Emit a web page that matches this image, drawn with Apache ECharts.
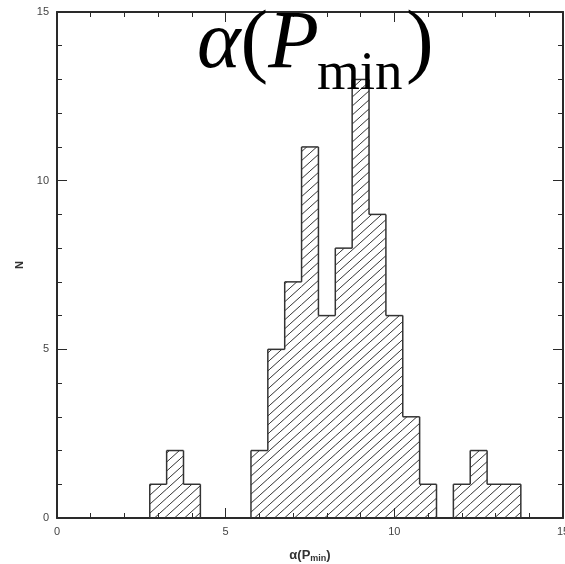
<!DOCTYPE html>
<html>
<head>
<meta charset="utf-8">
<script src="https://cdn.jsdelivr.net/npm/echarts@6/dist/echarts.min.js"></script>
<style>html,body{margin:0;padding:0;background:#fff}#c{width:565px;height:564px}</style>
</head>
<body>
<div id="c"></div>
<script>
// Histogram data (bin left edges, counts)
const binLeft = [2.75, 3.25, 3.75, 5.75, 6.25, 6.75, 7.25, 7.75, 8.25, 8.75, 9.25, 9.75, 10.25, 10.75, 11.75, 12.25, 12.75, 13.25];
const counts  = [1, 2, 1, 2, 5, 7, 11, 6, 8, 13, 9, 6, 3, 1, 1, 2, 1, 1];
const binWidth = 0.5;
const xTicks = [0, 5, 10, 15];
const yTicks = [0, 5, 10, 15];

// hatch pattern
const W = 10, H = 9;
const tile = document.createElement('canvas');
tile.width = W; tile.height = H;
const g = tile.getContext('2d');
g.strokeStyle = '#333';
g.lineWidth = 1;
[-W, 0, W].forEach(function (dx) {
  g.beginPath(); g.moveTo(dx, H); g.lineTo(dx + W, 0); g.stroke();
});
const hatch = { type: 'pattern', image: tile, repeat: 'repeat' };

const data = binLeft.map(function (x, i) { return [x, x + binWidth, counts[i]]; });
const near = function (a, b) { return Math.abs(a - b) < 1e-6; };

const chart = echarts.init(document.getElementById('c'), null, { renderer: 'canvas' });
const lineCol = '#2a2a2a';
const tickLab = { color: '#444', fontSize: 11, fontFamily: 'Liberation Sans, Arial, sans-serif' };
const serifMain = { fontFamily: 'Liberation Serif', fontWeight: 'normal', fontSize: 83, lineHeight: 83, color: '#000' };

chart.setOption({
  animation: false,
  backgroundColor: '#fff',
  title: [
    { text: '{a|α}{b|(}{a|P}', left: 197, top: 4, padding: 0,
      textStyle: { fontWeight: 'normal', rich: {
        a: Object.assign({}, serifMain, { fontStyle: 'italic' }),
        b: Object.assign({}, serifMain) } } },
    { text: 'min', left: 317, top: 47, padding: 0,
      textStyle: { fontFamily: 'Liberation Serif', fontWeight: 'normal', fontSize: 55, lineHeight: 55, color: '#000' } },
    { text: ')', left: 406, top: 4, padding: 0,
      textStyle: Object.assign({}, serifMain) }
  ],
  grid: { left: 57, right: 2, top: 12, bottom: 46, outerBoundsMode: 'none', containLabel: false },
  xAxis: [
    { type: 'value', min: 0, max: 15, interval: 5, position: 'bottom',
      name: '{a|α(P}{s|min}{a|)}', nameLocation: 'middle', nameGap: 29,
      nameTextStyle: { rich: {
        a: { fontFamily: 'Liberation Sans', fontWeight: 'bold', fontSize: 13, color: '#333' },
        s: { fontFamily: 'Liberation Sans', fontWeight: 'bold', fontSize: 9, color: '#333', padding: [7, 0, 0, 0] } } },
      axisLine: { show: true, onZero: false, lineStyle: { color: lineCol, width: 2 } },
      axisTick: { show: true, inside: true, length: 10, lineStyle: { color: lineCol, width: 1 } },
      minorTick: { show: true, splitNumber: 5, length: 5, lineStyle: { color: lineCol, width: 1 } },
      axisLabel: Object.assign({ margin: 8, formatter: function (v) { return xTicks.indexOf(v) >= 0 ? String(v) : ''; } }, tickLab),
      splitLine: { show: false } },
    { type: 'value', min: 0, max: 15, interval: 5, position: 'top',
      axisLine: { show: true, onZero: false, lineStyle: { color: lineCol, width: 2 } },
      axisTick: { show: true, inside: true, length: 10, lineStyle: { color: lineCol, width: 1 } },
      minorTick: { show: true, splitNumber: 5, length: 5, lineStyle: { color: lineCol, width: 1 } },
      axisLabel: { show: false }, splitLine: { show: false } }
  ],
  yAxis: [
    { type: 'value', min: 0, max: 15, interval: 5, position: 'left',
      name: 'N', nameLocation: 'middle', nameGap: 20, nameRotate: 90,
      nameTextStyle: { fontFamily: 'Liberation Sans', fontWeight: 'bold', fontSize: 11, color: '#333' },
      axisLine: { show: true, onZero: false, lineStyle: { color: lineCol, width: 2 } },
      axisTick: { show: true, inside: true, length: 10, lineStyle: { color: lineCol, width: 1 } },
      minorTick: { show: true, splitNumber: 5, length: 5, lineStyle: { color: lineCol, width: 1 } },
      axisLabel: Object.assign({ margin: 8, formatter: function (v) { return yTicks.indexOf(v) >= 0 ? String(v) : ''; } }, tickLab),
      splitLine: { show: false } },
    { type: 'value', min: 0, max: 15, interval: 5, position: 'right',
      axisLine: { show: true, onZero: false, lineStyle: { color: lineCol, width: 2 } },
      axisTick: { show: true, inside: true, length: 10, lineStyle: { color: lineCol, width: 1 } },
      minorTick: { show: true, splitNumber: 5, length: 5, lineStyle: { color: lineCol, width: 1 } },
      axisLabel: { show: false }, splitLine: { show: false } }
  ],
  series: [{
    type: 'custom',
    xAxisIndex: 0, yAxisIndex: 0,
    z: 1,
    data: data,
    renderItem: function (params, api) {
      const i = params.dataIndex;
      const x0 = api.value(0), x1 = api.value(1), c = api.value(2);
      const pb = api.coord([x0, 0]);
      const pt = api.coord([x1, c]);
      const prevC = (i > 0 && near(binLeft[i - 1] + binWidth, x0)) ? counts[i - 1] : 0;
      const nextAdj = (i < binLeft.length - 1 && near(binLeft[i + 1], x1));
      const pPrev = api.coord([x0, prevC]);
      const ls = { stroke: '#333', lineWidth: 1.5 };
      const children = [
        { type: 'rect', shape: { x: pb[0], y: pt[1], width: pt[0] - pb[0], height: pb[1] - pt[1] },
          style: { fill: hatch } },
        { type: 'line', shape: { x1: pb[0], y1: pt[1], x2: pt[0], y2: pt[1] }, style: ls },
        { type: 'line', shape: { x1: pb[0], y1: pPrev[1], x2: pb[0], y2: pt[1] }, style: ls }
      ];
      if (!nextAdj) {
        children.push({ type: 'line', shape: { x1: pt[0], y1: pt[1], x2: pt[0], y2: pb[1] }, style: ls });
      }
      return { type: 'group', children: children };
    }
  }]
});
</script>
</body>
</html>
